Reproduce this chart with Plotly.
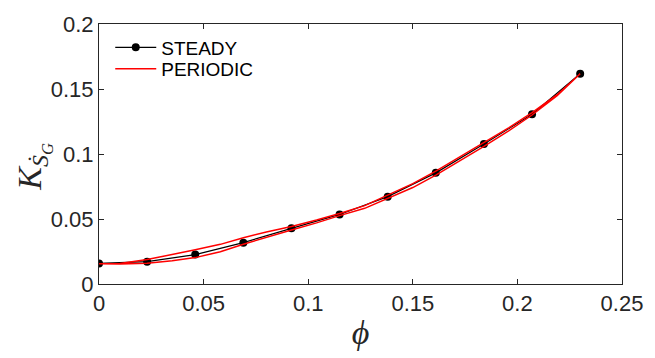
import plotly.graph_objects as go

# Steady data
steady_x = [0, 0.023, 0.046, 0.069, 0.092, 0.115, 0.138, 0.161, 0.184, 0.207, 0.23]
steady_y = [0.0158, 0.0172, 0.0226, 0.0318, 0.0428, 0.0535, 0.0672, 0.0855, 0.1077, 0.1306, 0.1617]

# Periodic loop: upper branch (x increasing) then lower branch (x decreasing)
per_x_up = [0, 0.01, 0.023, 0.035, 0.046, 0.058, 0.069, 0.08, 0.092, 0.104, 0.115,
            0.127, 0.138, 0.15, 0.161, 0.172, 0.184, 0.196, 0.207, 0.219, 0.23]
per_y_up = [0.0155, 0.0157, 0.0188, 0.0225, 0.0263, 0.0305, 0.0356, 0.0400, 0.0443, 0.0492,
            0.0542, 0.0603, 0.0686, 0.0772, 0.0868, 0.0972, 0.1088, 0.1203, 0.1318, 0.1456, 0.1617]
per_y_low = [0.0155, 0.0153, 0.0160, 0.0178, 0.0203, 0.0248, 0.0306, 0.0360, 0.0415, 0.0470,
             0.0526, 0.0582, 0.0657, 0.0742, 0.0838, 0.0942, 0.1058, 0.1180, 0.1300, 0.1448, 0.1617]

per_x = per_x_up + per_x_up[::-1]
per_y = per_y_up + per_y_low[::-1]

xticks = [0, 0.05, 0.1, 0.15, 0.2, 0.25]
xticklabels = ["0", "0.05", "0.1", "0.15", "0.2", "0.25"]
yticks = [0, 0.05, 0.1, 0.15, 0.2]
yticklabels = ["0", "0.05", "0.1", "0.15", "0.2"]

fig = go.Figure()
fig.add_trace(go.Scatter(x=steady_x, y=steady_y, mode="lines+markers", name="STEADY",
                         line=dict(color="black", width=1.2),
                         marker=dict(color="black", size=8, symbol="circle"),
                         legend="legend"))
fig.add_trace(go.Scatter(x=per_x, y=per_y, mode="lines", name="PERIODIC",
                         line=dict(color="#ff0000", width=1.5),
                         legend="legend2"))

tickfont = dict(family="Liberation Sans", size=22, color="#262626")
axis_common = dict(showgrid=False, zeroline=False, showline=True, linecolor="#262626",
                   linewidth=1, mirror="allticks", ticks="inside", ticklen=5,
                   tickcolor="#262626", tickfont=tickfont)

legfont = dict(family="Liberation Sans", size=19, color="black")
leg_common = dict(xanchor="left", yanchor="middle", bgcolor="rgba(0,0,0,0)",
                  font=legfont, itemwidth=41, borderwidth=0)

fig.update_layout(
    width=655, height=358,
    margin=dict(l=99, r=26, t=18, b=74),
    paper_bgcolor="white", plot_bgcolor="white",
    showlegend=True,
    legend=dict(x=0.0215, y=0.9098, **leg_common),
    legend2=dict(x=0.0215, y=0.8271, **leg_common),
    xaxis=dict(range=[0, 0.25], tickvals=xticks, ticktext=xticklabels,
               title=dict(text="<i>ϕ</i>", font=dict(family="Liberation Serif", size=34, color="#262626"),
                          standoff=4),
               **axis_common),
    yaxis=dict(range=[0, 0.2], tickvals=yticks, ticktext=yticklabels, **axis_common),
    annotations=[dict(text="<i>K</i><sub><i>Ṡ</i><sub><i>G</i></sub></sub>",
                      xref="paper", yref="paper", x=-0.1245, y=0.451,
                      xanchor="center", yanchor="middle", textangle=-90, showarrow=False,
                      font=dict(family="Liberation Serif", size=34, color="#262626"))],
)

fig.write_html("out.html")
